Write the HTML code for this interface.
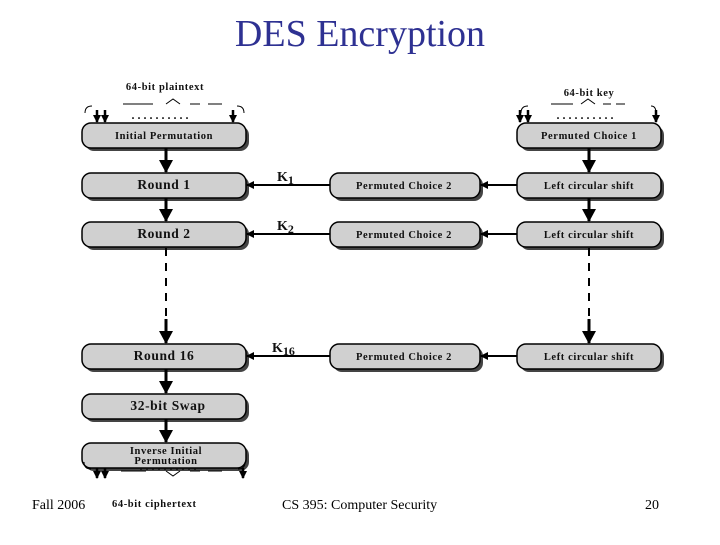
<!DOCTYPE html>
<html><head><style>
body{margin:0;background:#fff;}
svg text{font-family:"Liberation Serif",serif;}
.b{font-weight:bold;fill:#111;}
</style></head><body>
<svg width="720" height="540" viewBox="0 0 720 540" xmlns="http://www.w3.org/2000/svg">
<defs>
<marker id="a" markerWidth="8" markerHeight="8" refX="7" refY="4" orient="auto" markerUnits="userSpaceOnUse"><path d="M0,0L8,4L0,8z" fill="#000"/></marker>
<marker id="s" markerWidth="14" markerHeight="14" refX="12" refY="7" orient="auto" markerUnits="userSpaceOnUse"><path d="M0,0L13,7L0,14z" fill="#000"/></marker>
</defs>
<text x="360" y="46" font-size="38" text-anchor="middle" fill="#2e3192">DES Encryption</text>
<g stroke="#000" stroke-width="1.5">
<g fill="#444" stroke="none">
<rect x="85" y="126" width="164" height="25" rx="9"/>
<rect x="85" y="176" width="164" height="25" rx="9"/>
<rect x="85" y="225" width="164" height="25" rx="9"/>
<rect x="85" y="347" width="164" height="25" rx="9"/>
<rect x="85" y="397" width="164" height="25" rx="9"/>
<rect x="85" y="446" width="164" height="25" rx="9"/>
<rect x="333" y="176" width="150" height="25" rx="9"/>
<rect x="333" y="225" width="150" height="25" rx="9"/>
<rect x="333" y="347" width="150" height="25" rx="9"/>
<rect x="520" y="126" width="144" height="25" rx="9"/>
<rect x="520" y="176" width="144" height="25" rx="9"/>
<rect x="520" y="225" width="144" height="25" rx="9"/>
<rect x="520" y="347" width="144" height="25" rx="9"/>
</g>
<g fill="#d0d0d0">
<rect x="82" y="123" width="164" height="25" rx="9"/>
<rect x="82" y="173" width="164" height="25" rx="9"/>
<rect x="82" y="222" width="164" height="25" rx="9"/>
<rect x="82" y="344" width="164" height="25" rx="9"/>
<rect x="82" y="394" width="164" height="25" rx="9"/>
<rect x="82" y="443" width="164" height="25" rx="9"/>
<rect x="330" y="173" width="150" height="25" rx="9"/>
<rect x="330" y="222" width="150" height="25" rx="9"/>
<rect x="330" y="344" width="150" height="25" rx="9"/>
<rect x="517" y="123" width="144" height="25" rx="9"/>
<rect x="517" y="173" width="144" height="25" rx="9"/>
<rect x="517" y="222" width="144" height="25" rx="9"/>
<rect x="517" y="344" width="144" height="25" rx="9"/>
</g>
</g>
<g stroke="#000" stroke-width="3" fill="none">
<line x1="166" y1="148" x2="166" y2="172" marker-end="url(#s)"/>
<line x1="166" y1="198" x2="166" y2="221" marker-end="url(#s)"/>
<line x1="166" y1="319" x2="166" y2="343" marker-end="url(#s)"/>
<line x1="166" y1="369" x2="166" y2="393" marker-end="url(#s)"/>
<line x1="166" y1="419" x2="166" y2="442" marker-end="url(#s)"/>
<line x1="589" y1="148" x2="589" y2="172" marker-end="url(#s)"/>
<line x1="589" y1="198" x2="589" y2="221" marker-end="url(#s)"/>
<line x1="589" y1="319" x2="589" y2="343" marker-end="url(#s)"/>
</g>
<g stroke="#000" stroke-width="2" stroke-dasharray="8,7">
<line x1="166" y1="248" x2="166" y2="320"/>
<line x1="589" y1="248" x2="589" y2="320"/>
</g>
<g stroke="#000" stroke-width="2">
<line x1="330" y1="185" x2="247" y2="185" marker-end="url(#a)"/>
<line x1="330" y1="234" x2="247" y2="234" marker-end="url(#a)"/>
<line x1="330" y1="356" x2="247" y2="356" marker-end="url(#a)"/>
<line x1="517" y1="185" x2="481" y2="185" marker-end="url(#a)"/>
<line x1="517" y1="234" x2="481" y2="234" marker-end="url(#a)"/>
<line x1="517" y1="356" x2="481" y2="356" marker-end="url(#a)"/>
</g>
<g stroke="#000" stroke-width="1" fill="none">
<path d="M85,113 Q85,106 92,106 M237,106 Q244,106 244,113"/>
<path d="M123,104 H153 M166,104 L173,99 L180,104 M190,104 H200 M208,104 H222"/>
<path d="M521,113 Q521,106 528,106 M651,106 Q656,106 656,113"/>
<path d="M551,104 H573 M581,104 L588,99 L595,104 M603,104 H611 M616,104 H625"/>
<path d="M84,462 Q84,469 91,469 M238,469 Q245,469 245,462"/>
<path d="M121,471 H146 M166,471 L173,476 L180,471 M190,471 H200 M208,471 H222"/>
</g>
<g stroke="#000" stroke-width="2.5">
<line x1="97" y1="110" x2="97" y2="122" marker-end="url(#a)"/>
<line x1="105" y1="110" x2="105" y2="122" marker-end="url(#a)"/>
<line x1="233" y1="110" x2="233" y2="122" marker-end="url(#a)"/>
<line x1="520" y1="110" x2="520" y2="122" marker-end="url(#a)"/>
<line x1="528" y1="110" x2="528" y2="122" marker-end="url(#a)"/>
<line x1="656" y1="110" x2="656" y2="122" marker-end="url(#a)"/>
<line x1="97" y1="468" x2="97" y2="478" marker-end="url(#a)"/>
<line x1="105" y1="468" x2="105" y2="478" marker-end="url(#a)"/>
<line x1="243" y1="468" x2="243" y2="478" marker-end="url(#a)"/>
</g>
<g class="b" font-size="10.5" letter-spacing="0.6">
<text x="165" y="90" text-anchor="middle">64-bit plaintext</text>
<text x="589" y="96" text-anchor="middle">64-bit key</text>
<text x="164" y="139" text-anchor="middle">Initial Permutation</text>
<text x="589" y="139" text-anchor="middle">Permuted Choice 1</text>
<text x="164" y="189" text-anchor="middle" font-size="13.5">Round 1</text>
<text x="164" y="238" text-anchor="middle" font-size="13.5">Round 2</text>
<text x="164" y="360" text-anchor="middle" font-size="13.5">Round 16</text>
<text x="168" y="410" text-anchor="middle" font-size="13.5">32-bit Swap</text>
<text x="166" y="454" text-anchor="middle">Inverse Initial</text>
<text x="166" y="464" text-anchor="middle">Permutation</text>
<text x="404" y="189" text-anchor="middle">Permuted Choice 2</text>
<text x="404" y="238" text-anchor="middle">Permuted Choice 2</text>
<text x="404" y="360" text-anchor="middle">Permuted Choice 2</text>
<text x="589" y="189" text-anchor="middle">Left circular shift</text>
<text x="589" y="238" text-anchor="middle">Left circular shift</text>
<text x="589" y="360" text-anchor="middle">Left circular shift</text>
<text x="112" y="507">64-bit ciphertext</text>
</g>
<g class="b">
<text x="160" y="119" text-anchor="middle" font-size="12">. . . . . . . . . .</text>
<text x="585" y="119" text-anchor="middle" font-size="12">. . . . . . . . . .</text>
<text x="168" y="470" text-anchor="middle" font-size="12">. . . . . . . . . .</text>
<text x="277" y="181" font-size="14">K<tspan font-size="12" dy="3">1</tspan></text>
<text x="277" y="230" font-size="14">K<tspan font-size="12" dy="3">2</tspan></text>
<text x="272" y="352" font-size="14">K<tspan font-size="12" dy="3">16</tspan></text>
</g>
<g font-size="14" fill="#000">
<text x="32" y="509">Fall 2006</text>
<text x="282" y="509">CS 395: Computer Security</text>
<text x="645" y="509">20</text>
</g>
</svg>
</body></html>
